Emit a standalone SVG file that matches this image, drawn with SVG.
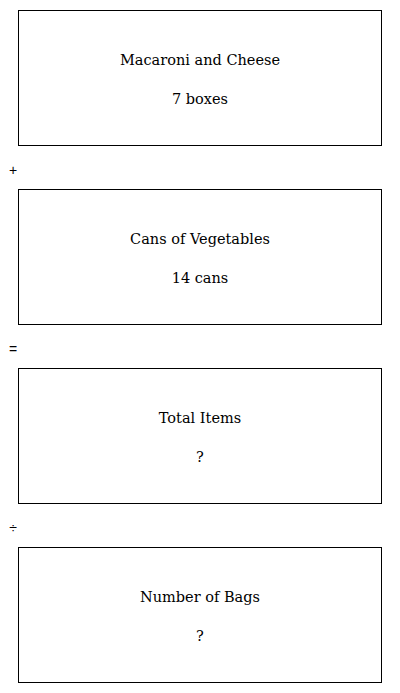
<svg xmlns="http://www.w3.org/2000/svg" width="400" height="693" viewBox="0 0 400 693">
<style>
.box{fill:#fff;stroke:#000;stroke-width:1}
.t{font-family:"DejaVu Serif","Liberation Serif",serif;font-size:14.5px;text-anchor:middle;fill:#000}
.op{font-family:"Liberation Sans",Arial,sans-serif;font-size:14px;text-anchor:middle;fill:#000}
</style>
<rect width="400" height="693" fill="#fff"/>
<g id="node1"><rect class="box" x="18.5" y="10.5" width="363" height="135"/><text class="t" x="200" y="65">Macaroni and Cheese</text><text class="t" x="200" y="104">7 boxes</text></g>
<g id="node2"><rect class="box" x="18.5" y="189.5" width="363" height="135"/><text class="t" x="200" y="244">Cans of Vegetables</text><text class="t" x="200" y="283">14 cans</text></g>
<g id="node3"><rect class="box" x="18.5" y="368.5" width="363" height="135"/><text class="t" x="200" y="423">Total Items</text><text class="t" x="200" y="462">?</text></g>
<g id="node4"><rect class="box" x="18.5" y="547.5" width="363" height="135"/><text class="t" x="200" y="602">Number of Bags</text><text class="t" x="200" y="641">?</text></g>
<g id="connectors"><text class="op" x="13" y="175">+</text><text class="op" x="13" y="354">=</text><text class="op" x="13" y="533">÷</text></g>
</svg>
